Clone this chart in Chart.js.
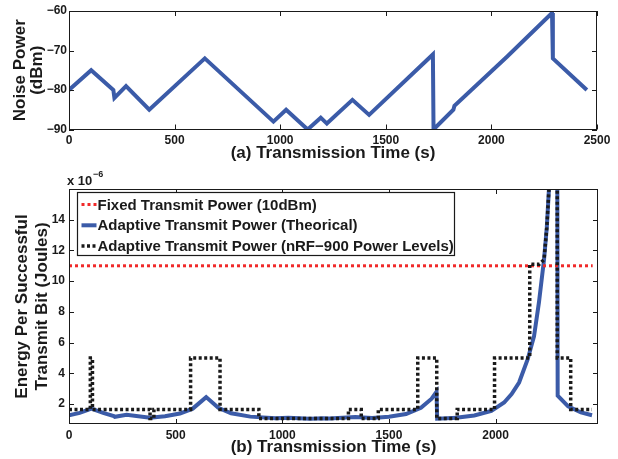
<!DOCTYPE html>
<html>
<head>
<meta charset="utf-8">
<title>Noise power and energy per bit</title>
<script src="https://cdn.jsdelivr.net/npm/chart.js@4.4.1/dist/chart.umd.min.js"></script>
<style>
    html, body { margin: 0; padding: 0; background: #fff; }
    #wrap { position: relative; width: 618px; height: 459px; }
    canvas { position: absolute; left: 0; }
    #noiseChart { top: 0; }
    #energyChart { top: 164px; }
</style>
</head>
<body>
<div id="wrap">
    <canvas id="noiseChart" width="618" height="164"></canvas>
    <canvas id="energyChart" width="618" height="295"></canvas>
</div>
<script>
// (a) noise power over time (s, dBm)
const noiseTime = [0, 105, 210, 215, 270, 380, 643, 968, 1028, 1130, 1192, 1221, 1342, 1421, 1723, 1726, 1820, 1825, 2075, 2287, 2291, 2452];
const noiseDbm = [-80, -75, -80, -82, -79, -85, -72, -88, -85, -90, -87, -88.5, -82.5, -86.3, -71, -90, -85, -84, -71.5, -60.5, -72, -80];
const noiseXTicks = [0, 500, 1000, 1500, 2000, 2500];
const noiseYTicks = [-90, -80, -70, -60];

// (b) energy per successful transmit bit (x 10^-6 J)
const fixedTime = [0, 2455];
const fixedEnergy = [11, 11];

const theoTime = [0, 50, 105, 160, 210, 215, 270, 380, 450, 520, 580, 643, 700, 760, 850, 968, 1028, 1130, 1192, 1221, 1342, 1421,
    1500, 1580, 1650, 1700, 1723, 1726, 1820, 1825, 1900, 1980, 2040, 2075, 2110, 2150, 2180, 2203, 2227, 2240, 2252, 2270, 2287,
    2291, 2340, 2400, 2452];
const theoEnergy = [1.27, 1.42, 1.7, 1.42, 1.22, 1.17, 1.3, 1.1, 1.2, 1.38, 1.7, 2.45, 1.75, 1.4, 1.18, 1.07, 1.1, 1.05, 1.08, 1.06, 1.16, 1.09,
    1.17, 1.35, 1.75, 2.35, 2.8, 1.05, 1.1, 1.12, 1.25, 1.55, 2.1, 2.65, 3.4, 4.9, 6.4, 8.6, 11.4, 13.5, 16.5, 25, 35,
    2.55, 1.85, 1.45, 1.27];

const levelTime = [0, 100, 100, 110, 110, 380, 380, 398, 398, 570, 570, 708, 708, 890, 890, 1310, 1310, 1370, 1370, 1450, 1450,
    1635, 1635, 1724, 1724, 1820, 1820, 1995, 1995, 2160, 2160, 2205, 2227, 2240, 2252, 2270, 2289, 2289, 2352, 2352, 2452];
const levelEnergy = [1.65, 1.65, 5, 5, 1.65, 1.65, 1.05, 1.05, 1.65, 1.65, 5, 5, 1.65, 1.65, 1.05, 1.05, 1.65, 1.65, 1.05, 1.05, 1.65,
    1.65, 5, 5, 1.05, 1.05, 1.65, 1.65, 5, 5, 11.1, 11.1, 11.4, 13.5, 16.5, 25, 35, 5, 5, 1.65, 1.65];

const energyXTicks = [0, 500, 1000, 1500, 2000];
const energyYTicks = [2, 4, 6, 8, 10, 12, 14];

const FONT = "'Liberation Sans', Arial, Helvetica, sans-serif";
const INK = '#1a1a1a';
const BLUE = '#3b5ba8';
const RED = '#f02a2a';

function toPoints(xs, ys) {
    return xs.map((x, i) => ({ x: x, y: ys[i] }));
}

function fixedTicks(values) {
    return scale => { scale.ticks = values.map(v => ({ value: v })); };
}

// plain numbers, with the long minus sign of the original
const plainLabel = v => String(v).replace('-', '\u2212');

// box round the plot with inward tick marks, like the original figure
const frameTicks = {
    id: 'frameTicks',
    afterDatasetsDraw(chart) {
        const { ctx, chartArea: a, scales: { x, y } } = chart;
        ctx.save();
        ctx.strokeStyle = INK;
        ctx.lineWidth = 1;
        ctx.beginPath();
        x.ticks.forEach(t => {
            const px = Math.round(x.getPixelForValue(t.value)) + 0.5;
            ctx.moveTo(px, a.bottom); ctx.lineTo(px, a.bottom - 5);
            ctx.moveTo(px, a.top); ctx.lineTo(px, a.top + 5);
        });
        y.ticks.forEach(t => {
            const py = Math.round(y.getPixelForValue(t.value)) + 0.5;
            ctx.moveTo(a.left, py); ctx.lineTo(a.left + 5, py);
            ctx.moveTo(a.right, py); ctx.lineTo(a.right - 5, py);
        });
        ctx.stroke();
        ctx.strokeRect(Math.round(a.left) + 0.5, Math.round(a.top) + 0.5,
            Math.round(a.width) - 1, Math.round(a.height) - 1);
        ctx.restore();
    }
};

// boxed legend at the top left plus the x 10^-6 multiplier
const energyLegend = {
    id: 'energyLegend',
    afterDraw(chart) {
        const { ctx, chartArea: a } = chart;
        ctx.save();
        ctx.font = 'bold 13px ' + FONT;
        ctx.fillStyle = INK;
        ctx.textBaseline = 'alphabetic';
        ctx.fillText('x 10', a.left - 2, a.top - 4);
        ctx.font = 'bold 9px ' + FONT;
        ctx.fillText('\u22126', a.left + 24, a.top - 12);

        const bx = 77.5, by = a.top + 3.5, bw = 377, bh = 63;
        ctx.fillStyle = '#fff';
        ctx.fillRect(bx, by, bw, bh);
        ctx.strokeStyle = INK;
        ctx.lineWidth = 1.2;
        ctx.strokeRect(bx, by, bw, bh);

        ctx.font = 'bold 15px ' + FONT;
        ctx.textBaseline = 'middle';
        chart.data.datasets.forEach((ds, i) => {
            const ly = by + 12 + i * 20.8;
            ctx.strokeStyle = ds.borderColor;
            ctx.lineWidth = ds.borderWidth;
            ctx.setLineDash(ds.borderDash || []);
            ctx.beginPath();
            ctx.moveTo(bx + 4, ly);
            ctx.lineTo(bx + 19, ly);
            ctx.stroke();
            ctx.setLineDash([]);
            ctx.fillStyle = INK;
            ctx.fillText(ds.label, bx + 20, ly + 1);
        });
        ctx.restore();
    }
};

function axisFont(size) {
    return { family: FONT, size: size, weight: 'bold' };
}

// Create noise power chart
function createNoiseChart() {
    const ctx = document.getElementById('noiseChart').getContext('2d');
    new Chart(ctx, {
        type: 'line',
        data: {
            datasets: [{
                label: 'Noise Power',
                data: toPoints(noiseTime, noiseDbm),
                borderColor: BLUE,
                borderWidth: 4,
                pointRadius: 0,
                tension: 0
            }]
        },
        options: {
            responsive: false,
            animation: false,
            layout: { padding: { top: 11, right: 21, left: 0, bottom: 0 } },
            plugins: { legend: { display: false }, tooltip: { enabled: false } },
            scales: {
                x: {
                    type: 'linear',
                    min: 0,
                    max: 2500,
                    afterBuildTicks: fixedTicks(noiseXTicks),
                    afterFit: s => { s.height = 34.5; },
                    grid: { display: false, drawTicks: false },
                    border: { display: false },
                    ticks: { color: INK, font: axisFont(12), padding: 4, maxRotation: 0, callback: plainLabel },
                    title: {
                        display: true,
                        text: '(a) Transmission Time (s)',
                        color: INK,
                        font: axisFont(17),
                        padding: { top: 0, bottom: 0 }
                    }
                },
                y: {
                    min: -90,
                    max: -60,
                    afterBuildTicks: fixedTicks(noiseYTicks),
                    afterFit: s => { s.width = 69; },
                    grid: { display: false, drawTicks: false },
                    border: { display: false },
                    ticks: { color: INK, font: axisFont(12), padding: 2, callback: plainLabel },
                    title: {
                        display: true,
                        text: ['Noise Power', '(dBm)'],
                        color: INK,
                        font: { family: FONT, size: 17, weight: 'bold', lineHeight: 1.0 },
                        padding: { top: 12, bottom: 0 }
                    }
                }
            }
        },
        plugins: [frameTicks]
    });
}

// Create energy per bit chart
function createEnergyChart() {
    const ctx = document.getElementById('energyChart').getContext('2d');
    new Chart(ctx, {
        type: 'line',
        data: {
            datasets: [
                {
                    label: 'Fixed Transmit Power (10dBm)',
                    data: toPoints(fixedTime, fixedEnergy),
                    borderColor: RED,
                    borderWidth: 3,
                    borderDash: [3, 3],
                    pointRadius: 0,
                    order: 1
                },
                {
                    label: 'Adaptive Transmit Power (Theorical)',
                    data: toPoints(theoTime, theoEnergy),
                    borderColor: BLUE,
                    borderWidth: 4,
                    pointRadius: 0,
                    tension: 0,
                    order: 2
                },
                {
                    label: 'Adaptive Transmit Power (nRF\u2212900 Power Levels)',
                    data: toPoints(levelTime, levelEnergy),
                    borderColor: INK,
                    borderWidth: 3.5,
                    borderDash: [3, 2.5],
                    pointRadius: 0,
                    order: 0
                }
            ]
        },
        options: {
            responsive: false,
            animation: false,
            layout: { padding: { top: 25, right: 20, left: 0, bottom: 0 } },
            plugins: { legend: { display: false }, tooltip: { enabled: false } },
            scales: {
                x: {
                    type: 'linear',
                    min: 0,
                    max: 2480,
                    afterBuildTicks: fixedTicks(energyXTicks),
                    afterFit: s => { s.height = 35; },
                    grid: { display: false, drawTicks: false },
                    border: { display: false },
                    ticks: { color: INK, font: axisFont(12), padding: 4, maxRotation: 0, callback: plainLabel },
                    title: {
                        display: true,
                        text: '(b) Transmission Time (s)',
                        color: INK,
                        font: axisFont(17),
                        padding: { top: 0, bottom: 1 }
                    }
                },
                y: {
                    min: 0.7,
                    max: 16,
                    afterBuildTicks: fixedTicks(energyYTicks),
                    afterFit: s => { s.width = 69; },
                    grid: { display: false, drawTicks: false },
                    border: { display: false },
                    ticks: { color: INK, font: axisFont(12), padding: 4, callback: plainLabel },
                    title: {
                        display: true,
                        text: ['Energy Per Successful', 'Transmit Bit (Joules)'],
                        color: INK,
                        font: { family: FONT, size: 17, weight: 'bold', lineHeight: 1.2 },
                        padding: { top: 12, bottom: 0 }
                    }
                }
            }
        },
        plugins: [frameTicks, energyLegend]
    });
}

createNoiseChart();
createEnergyChart();
</script>
</body>
</html>
